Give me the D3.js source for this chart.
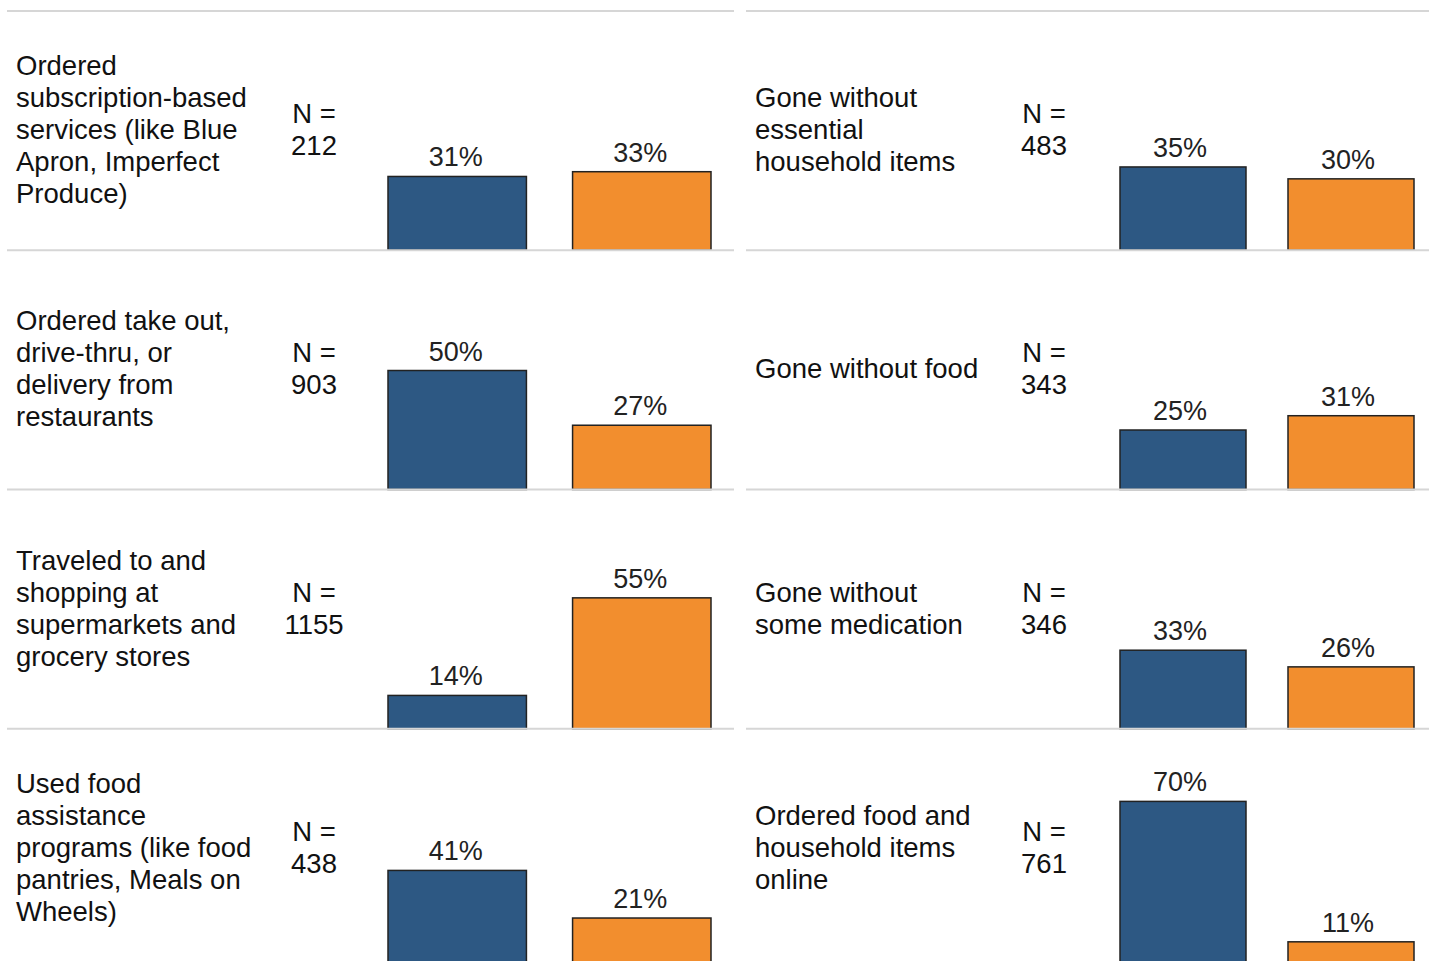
<!doctype html>
<html>
<head>
<meta charset="utf-8">
<title>Activities by group</title>
<script src="https://d3js.org/d3.v7.min.js"></script>
<style>
  body { margin: 0; background: #fff; }
  svg { display: block; overflow: hidden; }
  .label, .nlabel, .pct { font-family: "Liberation Sans", Arial, sans-serif; font-size: 27.5px; }
  .label, .nlabel { fill: #111; }
  .pct { fill: #222; text-anchor: middle; font-size: 27px; }
  .sep { stroke: #d6d6d6; stroke-width: 2; }
  .bar { stroke: #222; stroke-width: 1.5; }
</style>
</head>
<body>
<div id="chart"></div>
<script>
// left column
const leftCategories = [
  ["Ordered", "subscription-based", "services (like Blue", "Apron, Imperfect", "Produce)"],
  ["Ordered take out,", "drive-thru, or", "delivery from", "restaurants"],
  ["Traveled to and", "shopping at", "supermarkets and", "grocery stores"],
  ["Used food", "assistance", "programs (like food", "pantries, Meals on", "Wheels)"]
];
const leftN = [212, 903, 1155, 438];
const leftBlue = [31, 50, 14, 41];
const leftOrange = [33, 27, 55, 21];

// right column
const rightCategories = [
  ["Gone without", "essential", "household items"],
  ["Gone without food"],
  ["Gone without", "some medication"],
  ["Ordered food and", "household items", "online"]
];
const rightN = [483, 343, 346, 761];
const rightBlue = [35, 25, 33, 70];
const rightOrange = [30, 31, 26, 11];

const series = ["blue", "orange"];
const colors = { blue: "#2d5883", orange: "#f28e2e" };

const w = 1429;
const h = 961;
const lineH = 32;

const svg = d3.select("#chart")
  .append("svg")
  .attr("width", w)
  .attr("height", h);

const rowScale = d3.scaleBand()
  .domain(d3.range(4))
  .range([11, 968]);

const yScale = d3.scaleLinear()
  .domain([0, 100])
  .range([0, 238]);

const panels = [
  { cats: leftCategories, n: leftN, blue: leftBlue, orange: leftOrange,
    x0: 7, x1: 734, textX: 16, nX: 314, barRange: [388, 711], pctShift: -1.5 },
  { cats: rightCategories, n: rightN, blue: rightBlue, orange: rightOrange,
    x0: 746, x1: 1429, textX: 755, nX: 1044, barRange: [1120, 1414], pctShift: -3 }
];

panels.forEach(function(p) {
  const xScale = d3.scaleBand()
    .domain(series)
    .range(p.barRange)
    .paddingInner(0.25);

  p.cats.forEach(function(lines, i) {
    const top = rowScale(i);
    const base = top + rowScale.bandwidth();
    const mid = top + rowScale.bandwidth() / 2 - 1.5;
    const g = svg.append("g");

    // category label, centred on the row
    const label = g.append("text").attr("class", "label");
    lines.forEach(function(t, j) {
      label.append("tspan")
        .attr("x", p.textX)
        .attr("y", mid + (j - (lines.length - 1) / 2) * lineH + 10)
        .text(t);
    });

    const nl = g.append("text").attr("class", "nlabel").style("text-anchor", "middle");
    ["N =", String(p.n[i])].forEach(function(t, j) {
      nl.append("tspan")
        .attr("x", p.nX)
        .attr("y", mid + (j - 0.5) * lineH + 10)
        .text(t);
    });

    const vals = series.map(function(s) { return { key: s, value: p[s][i] }; });

    g.selectAll("rect")
      .data(vals)
      .enter()
      .append("rect")
      .attr("class", "bar")
      .attr("x", function(d) { return xScale(d.key); })
      .attr("y", function(d) { return base - yScale(d.value); })
      .attr("width", xScale.bandwidth())
      .attr("height", function(d) { return yScale(d.value); })
      .style("fill", function(d) { return colors[d.key]; });

    g.selectAll(".pct")
      .data(vals)
      .enter()
      .append("text")
      .attr("class", "pct")
      .attr("x", function(d) { return xScale(d.key) + xScale.bandwidth() / 2 + p.pctShift; })
      .attr("y", function(d) { return base - yScale(d.value) - 10; })
      .text(function(d) { return d.value + "%"; });
  });

  // separator lines
  svg.selectAll(null)
    .data(d3.range(5))
    .enter()
    .append("line")
    .attr("class", "sep")
    .attr("x1", p.x0)
    .attr("x2", p.x1)
    .attr("y1", function(d) { return d < 4 ? rowScale(d) : rowScale(3) + rowScale.bandwidth(); })
    .attr("y2", function(d) { return d < 4 ? rowScale(d) : rowScale(3) + rowScale.bandwidth(); });
});
</script>
</body>
</html>
